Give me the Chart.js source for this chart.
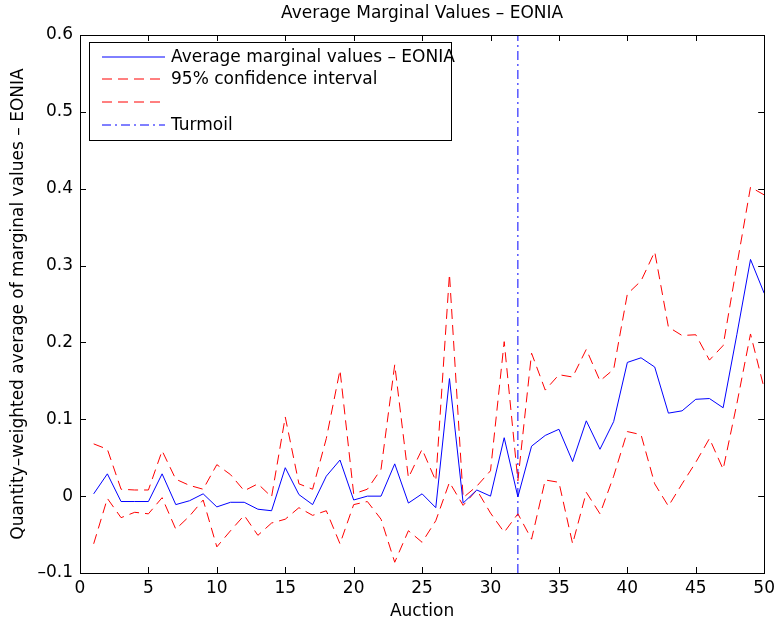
<!DOCTYPE html>
<html>
<head>
<meta charset="utf-8">
<script src="https://cdn.jsdelivr.net/npm/chart.js@4.4.1/dist/chart.umd.min.js"></script>
<style>
	html, body { margin: 0; padding: 0; background: #fff; }
	#wrap { width: 780px; height: 625px; }
</style>
</head>
<body>
<div id="wrap"><canvas id="chart" width="780" height="625"></canvas></div>
<script>
const auctions = [1, 2, 3, 4, 5, 6, 7, 8, 9, 10, 11, 12, 13, 14, 15, 16, 17, 18, 19, 20,
	21, 22, 23, 24, 25, 26, 27, 28, 29, 30, 31, 32, 33, 34, 35, 36, 37, 38, 39, 40,
	41, 42, 43, 44, 45, 46, 47, 48, 49, 50];

const avg_values = [0.003, 0.029, -0.007, -0.007, -0.007, 0.029, -0.011, -0.006, 0.003, -0.014,
	-0.008, -0.008, -0.017, -0.019, 0.037, 0.002, -0.011, 0.026, 0.047, -0.005,
	0, 0, 0.042, -0.009, 0.003, -0.015, 0.153, -0.009, 0.008, 0,
	0.076, -0.001, 0.065, 0.079, 0.087, 0.045, 0.098, 0.061, 0.097, 0.174,
	0.180, 0.168, 0.108, 0.111, 0.126, 0.127, 0.115, 0.210, 0.308, 0.264];

const upper_ci = [0.068, 0.061, 0.009, 0.008, 0.008, 0.059, 0.022, 0.014, 0.009, 0.041,
	0.028, 0.007, 0.016, -0.001, 0.103, 0.016, 0.009, 0.075, 0.164, 0.003,
	0.009, 0.035, 0.171, 0.024, 0.061, 0.020, 0.289, -0.002, 0.013, 0.033,
	0.201, 0.020, 0.186, 0.138, 0.158, 0.155, 0.191, 0.150, 0.165, 0.263,
	0.280, 0.318, 0.220, 0.209, 0.210, 0.177, 0.196, 0.300, 0.402, 0.392];

const lower_ci = [-0.062, -0.003, -0.028, -0.021, -0.023, -0.002, -0.043, -0.026, -0.005, -0.066,
	-0.045, -0.025, -0.051, -0.035, -0.030, -0.015, -0.025, -0.019, -0.062, -0.011,
	-0.007, -0.030, -0.086, -0.045, -0.060, -0.032, 0.018, -0.012, 0.008, -0.022,
	-0.047, -0.023, -0.056, 0.021, 0.018, -0.062, 0.005, -0.023, 0.026, 0.084,
	0.080, 0.016, -0.013, 0.016, 0.044, 0.075, 0.035, 0.120, 0.211, 0.140];

const turmoil_auction = 32;
const y_range = [-0.1, 0.6];
const x_range = [0, 50];

const legend_labels = ['Average marginal values \u2013 EONIA', '95% confidence interval', '', 'Turmoil'];

const FONT = '"DejaVu Sans", "Liberation Sans", Arial, sans-serif';
const BLUE = '#0000ff';
const RED = '#ff0000';
const DASH = [10, 6];
const DASH_DOT = [9, 4, 2, 4];

const pts = (ys) => auctions.map((x, i) => ({ x: x, y: ys[i] }));

// box, inward ticks and legend, MATLAB style
const frame_plugin = {
	id: 'frame',
	afterDatasetsDraw(chart) {
		const c = chart.ctx;
		const a = chart.chartArea;
		const sx = chart.scales.x;
		const sy = chart.scales.y;

		c.save();
		c.lineWidth = 1;
		c.setLineDash([]);
		c.strokeStyle = '#000';
		c.strokeRect(Math.round(a.left) + 0.5, Math.round(a.top) + 0.5,
			Math.round(a.right - a.left), Math.round(a.bottom - a.top));

		c.beginPath();
		sx.ticks.forEach(t => {
			const px = Math.round(sx.getPixelForValue(t.value)) + 0.5;
			c.moveTo(px, a.bottom); c.lineTo(px, a.bottom - 6);
			c.moveTo(px, a.top); c.lineTo(px, a.top + 6);
		});
		sy.ticks.forEach(t => {
			const py = Math.round(sy.getPixelForValue(t.value)) + 0.5;
			c.moveTo(a.left, py); c.lineTo(a.left + 6, py);
			c.moveTo(a.right, py); c.lineTo(a.right - 6, py);
		});
		c.stroke();

		// legend box
		const lx = 89.5, ly = 42.5, lw = 362, lh = 98;
		c.fillStyle = '#fff';
		c.fillRect(lx, ly, lw, lh);
		c.strokeRect(lx, ly, lw, lh);
		c.restore();

		const rows = [57, 79, 102, 125];
		const colors = [BLUE, RED, RED, BLUE];
		const dashes = [[], DASH, DASH, DASH_DOT];

		for (let i = 0; i < rows.length; i++) {
			c.save();
			c.lineWidth = 1;
			c.setLineDash(dashes[i]);
			c.strokeStyle = colors[i];
			c.beginPath();
			c.moveTo(102, rows[i]);
			c.lineTo(165, rows[i]);
			c.stroke();
			c.restore();
		}

		c.save();
		c.fillStyle = '#000';
		c.font = '17px ' + FONT;
		c.textBaseline = 'middle';
		c.textAlign = 'left';
		for (let i = 0; i < rows.length; i++) {
			if (legend_labels[i]) c.fillText(legend_labels[i], 171, rows[i] + 1);
		}
		c.restore();
	}
};

const ctx = document.getElementById('chart').getContext('2d');

new Chart(ctx, {
	type: 'line',
	data: {
		datasets: [
			{
				label: legend_labels[0],
				data: pts(avg_values),
				borderColor: BLUE,
				borderWidth: 1
			},
			{
				label: legend_labels[1],
				data: pts(upper_ci),
				borderColor: RED,
				borderWidth: 1,
				borderDash: DASH
			},
			{
				label: 'lower',
				data: pts(lower_ci),
				borderColor: RED,
				borderWidth: 1,
				borderDash: DASH
			},
			{
				label: legend_labels[3],
				data: [{ x: turmoil_auction, y: y_range[0] }, { x: turmoil_auction, y: y_range[1] }],
				borderColor: BLUE,
				borderWidth: 1,
				borderDash: DASH_DOT
			}
		]
	},
	options: {
		responsive: false,
		animation: false,
		elements: {
			point: { radius: 0 },
			line: { tension: 0, fill: false }
		},
		layout: {
			padding: { right: 13, left: 0, bottom: 0 }
		},
		plugins: {
			legend: { display: false },
			tooltip: { enabled: false },
			title: {
				display: true,
				fullSize: false,
				text: 'Average Marginal Values \u2013 EONIA',
				color: '#000',
				font: { family: FONT, size: 17, weight: 'normal', lineHeight: 1.2 },
				padding: { top: 3, bottom: 11.6 }
			}
		},
		scales: {
			x: {
				type: 'linear',
				min: x_range[0],
				max: x_range[1],
				grid: { display: false, drawTicks: false },
				border: { display: false },
				ticks: {
					stepSize: 5,
					padding: 5,
					color: '#000',
					maxRotation: 0,
					font: { family: FONT, size: 17 }
				},
				title: {
					display: true,
					text: 'Auction',
					color: '#000',
					font: { family: FONT, size: 17 },
					padding: { top: 0, bottom: 3 }
				},
				afterFit(scale) { scale.height = 52; }
			},
			y: {
				min: y_range[0],
				max: y_range[1],
				grid: { display: false, drawTicks: false },
				border: { display: false },
				ticks: {
					stepSize: 0.1,
					padding: 7,
					color: '#000',
					font: { family: FONT, size: 17 },
					callback: (v) => {
						const r = Math.round(v * 10) / 10;
						if (r === 0) return '0';
						return (r < 0 ? '\u2013' : '') + Math.abs(r).toFixed(1);
					}
				},
				title: {
					display: true,
					text: 'Quantity\u2013weighted average of marginal values \u2013 EONIA',
					color: '#000',
					font: { family: FONT, size: 17 },
					padding: { top: 8, bottom: 0 }
				},
				afterFit(scale) { scale.width = 80; }
			}
		}
	},
	plugins: [frame_plugin]
});
</script>
</body>
</html>
